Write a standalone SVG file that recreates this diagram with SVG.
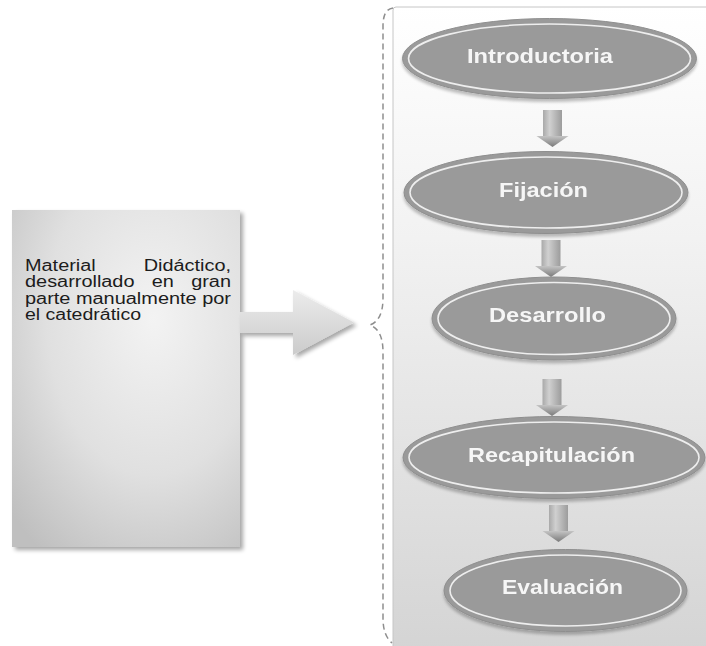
<svg xmlns="http://www.w3.org/2000/svg" width="706" height="646" viewBox="0 0 706 646">
  <defs>
    <radialGradient id="boxFill" cx="0.62" cy="0.32" r="0.85">
      <stop offset="0" stop-color="#f3f3f3"/>
      <stop offset="0.55" stop-color="#e0e0e0"/>
      <stop offset="1" stop-color="#bfbfbf"/>
    </radialGradient>
    <linearGradient id="bigArrowFill" x1="0" y1="0" x2="0" y2="1">
      <stop offset="0" stop-color="#ececec"/>
      <stop offset="1" stop-color="#cbcbcb"/>
    </linearGradient>
    <linearGradient id="panelFill" x1="0" y1="0" x2="0" y2="1">
      <stop offset="0" stop-color="#ffffff"/>
      <stop offset="0.35" stop-color="#f2f2f2"/>
      <stop offset="1" stop-color="#d3d3d3"/>
    </linearGradient>
    <linearGradient id="downFill" x1="0" y1="0" x2="1" y2="0">
      <stop offset="0" stop-color="#a9a9a9"/>
      <stop offset="0.35" stop-color="#d0d0d0"/>
      <stop offset="1" stop-color="#9c9c9c"/>
    </linearGradient>
    <linearGradient id="headFill" x1="0" y1="0" x2="0" y2="1">
      <stop offset="0" stop-color="#c4c4c4"/>
      <stop offset="1" stop-color="#7a7a7a"/>
    </linearGradient>
    <filter id="softShadow" x="-10%" y="-10%" width="130%" height="130%">
      <feGaussianBlur in="SourceAlpha" stdDeviation="2"/>
      <feOffset dx="3" dy="3"/>
      <feComponentTransfer><feFuncA type="linear" slope="0.35"/></feComponentTransfer>
      <feMerge><feMergeNode/><feMergeNode in="SourceGraphic"/></feMerge>
    </filter>
    <filter id="ellShadow" x="-10%" y="-20%" width="120%" height="150%">
      <feGaussianBlur in="SourceAlpha" stdDeviation="1.5"/>
      <feOffset dx="0" dy="3"/>
      <feComponentTransfer><feFuncA type="linear" slope="0.25"/></feComponentTransfer>
      <feMerge><feMergeNode/><feMergeNode in="SourceGraphic"/></feMerge>
    </filter>
    <!-- small downward block arrow, top-centre at origin -->
    <g id="down">
      <rect x="-9.5" y="0" width="19" height="27" fill="url(#downFill)"/>
      <path d="M-16,26 L16,26 L0,37 Z" fill="url(#headFill)"/>
    </g>
  </defs>
  <style>
    .body { font-family: "Liberation Sans", Arial, sans-serif; font-size: 16px; fill: #1c1c1c; }
    .label { font-family: "Liberation Sans", Arial, sans-serif; font-size: 19.5px; font-weight: bold; fill: #f6f6f6; }
    .ell { fill: #9a9a9a; stroke: #8e8e8e; stroke-width: 1; }
    .ring { fill: none; stroke: #eeeeee; stroke-width: 1.6; }
    .brace { fill: none; stroke: #8e8e8e; stroke-width: 1.5; stroke-dasharray: 6 4; }
  </style>

  <!-- stage panel with its bracket -->
  <g id="panel">
    <rect x="393" y="7" width="330" height="660" rx="3" fill="url(#panelFill)" stroke="#c6c6c6" stroke-width="1"/>
    <path class="brace" d="M393,8 C386,9 383,15 383,26 L383,298 C383,314 378,322 370,325 C378,328 383,336 383,352 L383,618 C383,630 386,638 392,643"/>
  </g>

  <!-- source material box -->
  <g id="material">
    <rect x="12" y="210" width="228" height="337" fill="url(#boxFill)" filter="url(#softShadow)"/>
    <text class="body" x="25" y="270.5" textLength="70.7" lengthAdjust="spacingAndGlyphs">Material</text>
    <text class="body" x="143.7" y="270.5" textLength="87.3" lengthAdjust="spacingAndGlyphs">Didáctico,</text>
    <text class="body" x="25" y="287" textLength="109.5" lengthAdjust="spacingAndGlyphs">desarrollado</text>
    <text class="body" x="151.7" y="287" textLength="22.1" lengthAdjust="spacingAndGlyphs">en</text>
    <text class="body" x="191.2" y="287" textLength="39.8" lengthAdjust="spacingAndGlyphs">gran</text>
    <text class="body" x="25" y="303.5" textLength="206" lengthAdjust="spacingAndGlyphs">parte manualmente por</text>
    <text class="body" x="25" y="320" textLength="116" lengthAdjust="spacingAndGlyphs">el catedrático</text>
  </g>

  <!-- connectors -->
  <g id="connectors">
    <path d="M240,312 L293,312 L293,290 L354,322.5 L293,355 L293,333 L240,333 Z" fill="url(#bigArrowFill)" filter="url(#softShadow)"/>
    <use href="#down" transform="translate(552.5,110)"/>
    <use href="#down" transform="translate(551,240)"/>
    <use href="#down" transform="translate(552,379)"/>
    <use href="#down" transform="translate(558.5,505)"/>
  </g>

  <g id="introductoria" filter="url(#ellShadow)">
    <ellipse class="ell" cx="549.5" cy="58.5" rx="147" ry="40"/>
    <ellipse class="ring" cx="549.5" cy="58.5" rx="141" ry="34.5"/>
    <text class="label" x="467" y="62.5" textLength="146" lengthAdjust="spacingAndGlyphs">Introductoria</text>
  </g>

  <g id="fijacion" filter="url(#ellShadow)">
    <ellipse class="ell" cx="546" cy="192.5" rx="142" ry="41"/>
    <ellipse class="ring" cx="546" cy="192.5" rx="136" ry="35.5"/>
    <text class="label" x="499" y="196.7" textLength="89" lengthAdjust="spacingAndGlyphs">Fijación</text>
  </g>

  <g id="desarrollo" filter="url(#ellShadow)">
    <ellipse class="ell" cx="554" cy="318.5" rx="122" ry="41.5"/>
    <ellipse class="ring" cx="554" cy="318.5" rx="116" ry="36"/>
    <text class="label" x="489" y="321.7" textLength="117" lengthAdjust="spacingAndGlyphs">Desarrollo</text>
  </g>

  <g id="recapitulacion" filter="url(#ellShadow)">
    <ellipse class="ell" cx="554" cy="457.5" rx="151" ry="41"/>
    <ellipse class="ring" cx="554" cy="457.5" rx="145" ry="35.5"/>
    <text class="label" x="468" y="462.3" textLength="167" lengthAdjust="spacingAndGlyphs">Recapitulación</text>
  </g>

  <g id="evaluacion" filter="url(#ellShadow)">
    <ellipse class="ell" cx="565.5" cy="590.5" rx="121.5" ry="41"/>
    <ellipse class="ring" cx="565.5" cy="590.5" rx="115.5" ry="35.5"/>
    <text class="label" x="502" y="594" textLength="121" lengthAdjust="spacingAndGlyphs">Evaluación</text>
  </g>
</svg>
